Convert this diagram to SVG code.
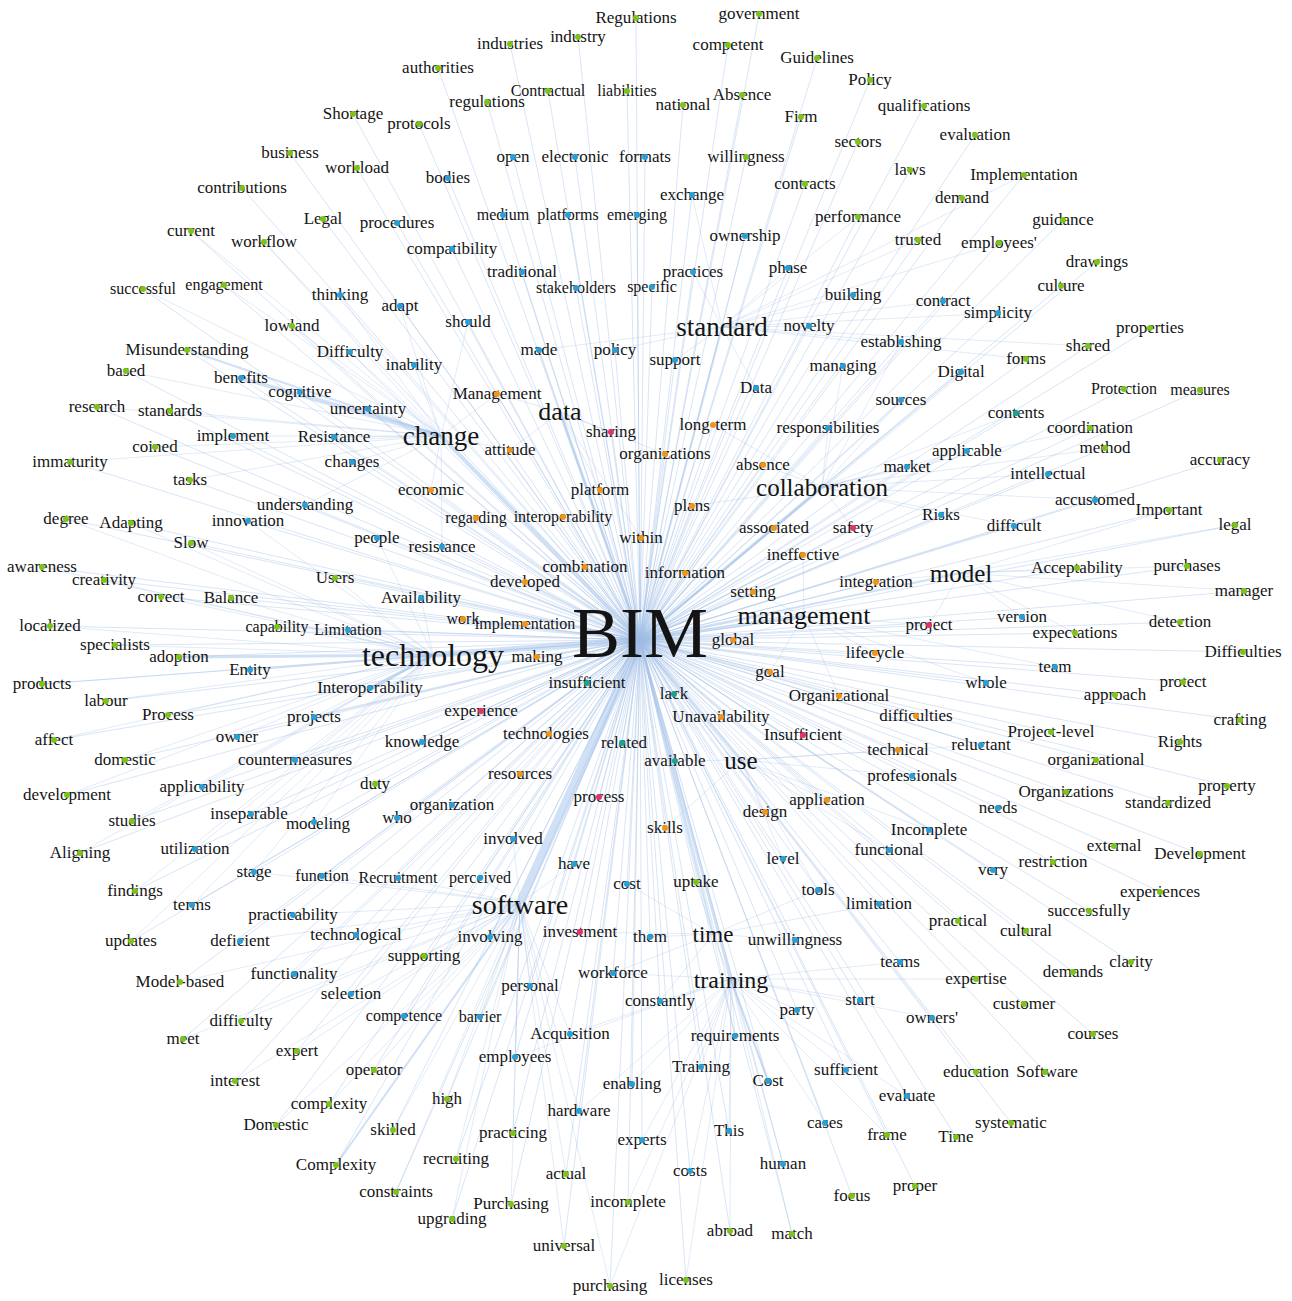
<svg xmlns="http://www.w3.org/2000/svg" width="1292" height="1301" viewBox="0 0 1292 1301">
<style>
text{font-family:"Liberation Serif","Times New Roman",serif;fill:#141414;text-anchor:middle}
.w text{font-size:17px}
.w.s text{font-size:16px}
.g{fill:#7dc41a}.b{fill:#2a9fd6}.o{fill:#f0951a}.p{fill:#e2336b}.t{fill:#1aa38f}
.e1 path{stroke:#9fbde6;stroke-width:1;fill:none;opacity:.4}
.e2 path{stroke:#9fbde6;stroke-width:1;fill:none;opacity:.3}
.e3 path{stroke:#aac6ec;fill:none;opacity:.55}
</style>
<rect width="1292" height="1301" fill="#fff"/>
<g id="connectors">
<g class="e3">
<path d="M640 640L520 903" stroke-width="9"/>
<path d="M640 640L433 655" stroke-width="6"/>
<path d="M640 640L441 436" stroke-width="4"/>
<path d="M441 436L241 378" stroke-width="4"/>
<path d="M441 436L187 350" stroke-width="2"/>
<path d="M640 640L560 412" stroke-width="3"/>
<path d="M640 640L741 760" stroke-width="3"/>
<path d="M640 640L731 979" stroke-width="3"/>
<path d="M640 640L713 934" stroke-width="2"/>
<path d="M640 640L722 327" stroke-width="2"/>
<path d="M640 640L822 487" stroke-width="3"/>
<path d="M640 640L804 616" stroke-width="3"/>
<path d="M640 640L961 573" stroke-width="2"/>
<path d="M433 655L179 657" stroke-width="3"/>
<path d="M433 655L370 688" stroke-width="3"/>
<path d="M520 903L336 1165" stroke-width="2"/>
<path d="M731 979L768 1081" stroke-width="2"/>
</g>
<g class="e1">
<path d="M640 640L636 18"/><path d="M640 640L759 14"/><path d="M640 640L510 44"/><path d="M640 640L578 37"/><path d="M640 640L728 45"/><path d="M640 640L817 58"/><path d="M640 640L438 68"/><path d="M640 640L870 80"/><path d="M640 640L548 91"/><path d="M640 640L627 91"/><path d="M640 640L353 114"/><path d="M640 640L419 124"/><path d="M640 640L487 102"/><path d="M640 640L683 105"/><path d="M640 640L742 95"/><path d="M640 640L801 117"/><path d="M640 640L924 106"/><path d="M640 640L858 142"/><path d="M640 640L975 135"/><path d="M640 640L290 153"/><path d="M640 640L357 168"/><path d="M640 640L448 178"/><path d="M640 640L513 157"/><path d="M640 640L575 157"/><path d="M640 640L645 157"/><path d="M640 640L746 157"/><path d="M640 640L805 184"/><path d="M640 640L910 170"/><path d="M640 640L1024 175"/><path d="M640 640L242 188"/><path d="M640 640L692 195"/><path d="M640 640L962 198"/><path d="M640 640L858 217"/><path d="M640 640L323 219"/><path d="M640 640L397 223"/><path d="M640 640L191 231"/><path d="M640 640L264 242"/><path d="M640 640L452 249"/><path d="M640 640L503 215"/><path d="M640 640L568 215"/><path d="M640 640L637 215"/><path d="M640 640L745 236"/><path d="M640 640L918 240"/><path d="M640 640L999 243"/><path d="M640 640L1063 220"/><path d="M640 640L1097 262"/><path d="M640 640L1061 286"/><path d="M640 640L143 289"/><path d="M640 640L224 285"/><path d="M640 640L340 295"/><path d="M640 640L400 306"/><path d="M640 640L522 272"/><path d="M640 640L576 288"/><path d="M640 640L652 287"/><path d="M640 640L693 272"/><path d="M640 640L788 268"/><path d="M640 640L853 295"/><path d="M640 640L943 301"/><path d="M640 640L998 313"/><path d="M640 640L468 322"/><path d="M640 640L809 326"/><path d="M640 640L1150 328"/><path d="M640 640L1088 346"/><path d="M640 640L901 342"/><path d="M640 640L292 326"/><path d="M640 640L187 350"/><path d="M640 640L350 352"/><path d="M640 640L414 365"/><path d="M640 640L539 350"/><path d="M640 640L615 350"/><path d="M640 640L675 360"/><path d="M640 640L1026 359"/><path d="M640 640L843 366"/><path d="M640 640L961 372"/><path d="M640 640L126 371"/><path d="M640 640L241 378"/><path d="M640 640L300 392"/><path d="M640 640L497 394"/><path d="M640 640L756 388"/><path d="M640 640L901 400"/><path d="M640 640L1124 389"/><path d="M640 640L1200 390"/><path d="M640 640L97 407"/><path d="M640 640L170 411"/><path d="M640 640L368 409"/><path d="M640 640L1016 413"/><path d="M640 640L1090 428"/><path d="M640 640L611 432"/><path d="M640 640L713 425"/><path d="M640 640L828 428"/><path d="M640 640L233 436"/><path d="M640 640L334 437"/><path d="M640 640L155 447"/><path d="M640 640L510 450"/><path d="M640 640L665 454"/><path d="M640 640L1105 448"/><path d="M640 640L1220 460"/><path d="M640 640L967 451"/><path d="M640 640L70 462"/><path d="M640 640L352 462"/><path d="M640 640L907 467"/><path d="M640 640L763 465"/><path d="M640 640L1048 474"/><path d="M640 640L190 480"/><path d="M640 640L431 490"/><path d="M640 640L600 490"/><path d="M640 640L1095 500"/><path d="M640 640L1169 510"/><path d="M640 640L692 506"/><path d="M640 640L305 505"/><path d="M640 640L66 519"/><path d="M640 640L131 523"/><path d="M640 640L248 521"/><path d="M640 640L476 518"/><path d="M640 640L563 517"/><path d="M640 640L774 528"/><path d="M640 640L853 528"/><path d="M640 640L941 515"/><path d="M640 640L1014 526"/><path d="M640 640L1235 525"/><path d="M640 640L191 543"/><path d="M640 640L377 538"/><path d="M640 640L442 547"/><path d="M640 640L641 538"/><path d="M640 640L803 555"/><path d="M640 640L42 567"/><path d="M640 640L104 580"/><path d="M640 640L335 578"/><path d="M640 640L585 567"/><path d="M640 640L685 573"/><path d="M640 640L876 582"/><path d="M640 640L1077 568"/><path d="M640 640L1187 566"/><path d="M640 640L1244 591"/><path d="M640 640L161 597"/><path d="M640 640L231 598"/><path d="M640 640L421 598"/><path d="M640 640L525 582"/><path d="M640 640L753 592"/><path d="M640 640L929 625"/><path d="M640 640L1022 617"/><path d="M640 640L50 626"/><path d="M640 640L277 627"/><path d="M640 640L348 630"/><path d="M640 640L463 619"/><path d="M640 640L1075 633"/><path d="M640 640L1180 622"/><path d="M640 640L1243 652"/><path d="M640 640L115 645"/><path d="M640 640L179 657"/><path d="M640 640L733 640"/><path d="M640 640L250 670"/><path d="M640 640L875 653"/><path d="M640 640L1055 667"/><path d="M640 640L42 684"/><path d="M640 640L370 688"/><path d="M640 640L587 683"/><path d="M640 640L770 672"/><path d="M640 640L986 683"/><path d="M640 640L1183 682"/><path d="M640 640L1115 695"/><path d="M640 640L106 701"/><path d="M640 640L674 694"/><path d="M640 640L839 696"/><path d="M640 640L168 715"/><path d="M640 640L314 717"/><path d="M640 640L481 711"/><path d="M640 640L721 717"/><path d="M640 640L916 716"/><path d="M640 640L1240 720"/><path d="M640 640L1051 732"/><path d="M640 640L981 745"/><path d="M640 640L1180 742"/><path d="M640 640L803 735"/><path d="M640 640L54 740"/><path d="M640 640L237 737"/><path d="M640 640L422 742"/><path d="M640 640L549 734"/><path d="M640 640L622 743"/><path d="M640 640L898 750"/><path d="M640 640L1096 760"/><path d="M640 640L125 760"/><path d="M640 640L295 760"/><path d="M640 640L675 761"/><path d="M640 640L912 776"/><path d="M640 640L1227 786"/><path d="M640 640L202 787"/><path d="M640 640L375 784"/><path d="M640 640L520 774"/><path d="M640 640L67 795"/><path d="M640 640L1066 792"/><path d="M640 640L1168 803"/><path d="M640 640L599 797"/><path d="M640 640L827 800"/><path d="M640 640L998 808"/><path d="M640 640L452 805"/><path d="M640 640L251 814"/><path d="M640 640L314 822"/><path d="M640 640L397 818"/><path d="M640 640L765 812"/><path d="M640 640L132 821"/><path d="M640 640L665 828"/><path d="M640 640L929 830"/><path d="M640 640L195 849"/><path d="M640 640L513 839"/><path d="M640 640L80 853"/><path d="M640 640L1114 846"/><path d="M640 640L1200 854"/><path d="M640 640L889 850"/><path d="M640 640L783 859"/><path d="M640 640L574 864"/><path d="M640 640L993 870"/><path d="M640 640L1053 862"/><path d="M640 640L254 872"/><path d="M640 640L322 876"/><path d="M640 640L398 878"/><path d="M640 640L480 878"/><path d="M640 640L627 884"/><path d="M640 640L696 882"/><path d="M640 640L818 890"/><path d="M640 640L1160 892"/><path d="M640 640L135 891"/><path d="M640 640L192 905"/><path d="M640 640L879 904"/><path d="M640 640L1089 911"/><path d="M640 640L293 915"/><path d="M640 640L958 921"/><path d="M640 640L1026 931"/><path d="M640 640L131 941"/><path d="M640 640L240 941"/><path d="M640 640L356 935"/><path d="M640 640L490 937"/><path d="M640 640L580 932"/><path d="M640 640L650 937"/><path d="M640 640L795 940"/><path d="M640 640L424 956"/><path d="M640 640L900 962"/><path d="M640 640L1073 972"/><path d="M640 640L1131 962"/><path d="M640 640L180 982"/><path d="M640 640L294 974"/><path d="M640 640L613 973"/><path d="M640 640L976 979"/><path d="M640 640L351 994"/><path d="M640 640L530 986"/><path d="M640 640L660 1001"/><path d="M640 640L860 1000"/><path d="M640 640L1024 1004"/><path d="M640 640L241 1021"/><path d="M640 640L404 1016"/><path d="M640 640L480 1017"/><path d="M640 640L797 1010"/><path d="M640 640L932 1018"/><path d="M640 640L183 1039"/><path d="M640 640L570 1034"/><path d="M640 640L735 1036"/><path d="M640 640L1093 1034"/><path d="M640 640L297 1051"/><path d="M640 640L515 1057"/><path d="M640 640L701 1067"/><path d="M640 640L768 1081"/><path d="M640 640L846 1070"/><path d="M640 640L976 1072"/><path d="M640 640L1045 1072"/><path d="M640 640L374 1070"/><path d="M640 640L235 1081"/><path d="M640 640L632 1084"/><path d="M640 640L447 1099"/><path d="M640 640L907 1096"/><path d="M640 640L329 1104"/><path d="M640 640L579 1111"/><path d="M640 640L1011 1123"/><path d="M640 640L276 1125"/><path d="M640 640L393 1130"/><path d="M640 640L513 1133"/><path d="M640 640L642 1140"/><path d="M640 640L729 1131"/><path d="M640 640L825 1123"/><path d="M640 640L887 1135"/><path d="M640 640L956 1137"/><path d="M640 640L336 1165"/><path d="M640 640L456 1159"/><path d="M640 640L783 1164"/><path d="M640 640L690 1171"/><path d="M640 640L566 1174"/><path d="M640 640L396 1192"/><path d="M640 640L511 1204"/><path d="M640 640L628 1202"/><path d="M640 640L852 1196"/><path d="M640 640L915 1186"/><path d="M640 640L452 1219"/><path d="M640 640L730 1231"/><path d="M640 640L792 1234"/><path d="M640 640L564 1246"/><path d="M640 640L610 1286"/><path d="M640 640L686 1280"/>
</g>
<g class="e2">
<path d="M433 655L115 645"/><path d="M433 655L250 670"/><path d="M433 655L42 684"/><path d="M433 655L106 701"/><path d="M433 655L168 715"/><path d="M433 655L314 717"/><path d="M433 655L54 740"/><path d="M433 655L237 737"/><path d="M433 655L125 760"/><path d="M433 655L295 760"/><path d="M433 655L202 787"/><path d="M433 655L67 795"/><path d="M433 655L132 821"/><path d="M433 655L251 814"/><path d="M433 655L314 822"/><path d="M433 655L80 853"/><path d="M433 655L195 849"/><path d="M433 655L50 626"/><path d="M433 655L277 627"/><path d="M433 655L348 630"/><path d="M433 655L161 597"/><path d="M433 655L231 598"/><path d="M433 655L104 580"/><path d="M433 655L42 567"/><path d="M433 655L421 598"/><path d="M433 655L335 578"/><path d="M433 655L66 519"/><path d="M433 655L131 523"/><path d="M433 655L191 543"/><path d="M433 655L377 538"/><path d="M433 655L248 521"/><path d="M433 655L135 891"/><path d="M433 655L131 941"/><path d="M433 655L254 872"/><path d="M433 655L192 905"/>
<path d="M520 903L356 935"/><path d="M520 903L293 915"/><path d="M520 903L240 941"/><path d="M520 903L424 956"/><path d="M520 903L351 994"/><path d="M520 903L294 974"/><path d="M520 903L241 1021"/><path d="M520 903L183 1039"/><path d="M520 903L297 1051"/><path d="M520 903L374 1070"/><path d="M520 903L235 1081"/><path d="M520 903L329 1104"/><path d="M520 903L276 1125"/><path d="M520 903L393 1130"/><path d="M520 903L396 1192"/><path d="M520 903L452 1219"/><path d="M520 903L511 1204"/><path d="M520 903L564 1246"/><path d="M520 903L610 1286"/><path d="M520 903L456 1159"/><path d="M520 903L447 1099"/><path d="M520 903L515 1057"/><path d="M520 903L404 1016"/><path d="M520 903L480 1017"/><path d="M520 903L530 986"/><path d="M520 903L490 937"/><path d="M520 903L579 1111"/><path d="M520 903L570 1034"/><path d="M520 903L513 1133"/><path d="M520 903L566 1174"/><path d="M520 903L254 872"/><path d="M520 903L322 876"/><path d="M520 903L398 878"/><path d="M520 903L480 878"/><path d="M520 903L513 839"/><path d="M520 903L574 864"/><path d="M520 903L180 982"/>
<path d="M441 436L300 392"/><path d="M441 436L126 371"/><path d="M441 436L97 407"/><path d="M441 436L170 411"/><path d="M441 436L233 436"/><path d="M441 436L155 447"/><path d="M441 436L70 462"/><path d="M441 436L190 480"/><path d="M441 436L352 462"/><path d="M441 436L368 409"/><path d="M441 436L334 437"/><path d="M441 436L305 505"/><path d="M441 436L431 490"/><path d="M441 436L350 352"/><path d="M441 436L414 365"/><path d="M441 436L497 394"/><path d="M441 436L510 450"/><path d="M441 436L340 295"/><path d="M441 436L400 306"/><path d="M441 436L468 322"/><path d="M441 436L292 326"/><path d="M441 436L224 285"/><path d="M441 436L143 289"/><path d="M441 436L264 242"/><path d="M441 436L191 231"/><path d="M441 436L442 547"/>
<path d="M731 979L701 1067"/><path d="M731 979L735 1036"/><path d="M731 979L797 1010"/><path d="M731 979L860 1000"/><path d="M731 979L846 1070"/><path d="M731 979L690 1171"/><path d="M731 979L642 1140"/><path d="M731 979L632 1084"/><path d="M731 979L660 1001"/><path d="M731 979L783 1164"/><path d="M731 979L729 1131"/><path d="M731 979L825 1123"/><path d="M731 979L887 1135"/><path d="M731 979L730 1231"/><path d="M731 979L792 1234"/><path d="M731 979L686 1280"/><path d="M731 979L610 1286"/><path d="M731 979L628 1202"/><path d="M731 979L613 973"/><path d="M731 979L515 1057"/><path d="M731 979L579 1111"/><path d="M731 979L570 1034"/><path d="M731 979L907 1096"/><path d="M731 979L932 1018"/><path d="M731 979L900 962"/><path d="M731 979L976 979"/>
<path d="M713 934L795 940"/><path d="M713 934L879 904"/><path d="M713 934L818 890"/><path d="M713 934L696 882"/><path d="M713 934L627 884"/><path d="M713 934L650 937"/><path d="M713 934L580 932"/><path d="M713 934L613 973"/><path d="M713 934L660 1001"/><path d="M713 934L735 1036"/><path d="M713 934L768 1081"/>
<path d="M822 487L763 465"/><path d="M822 487L828 428"/><path d="M822 487L967 451"/><path d="M822 487L907 467"/><path d="M822 487L1048 474"/><path d="M822 487L1016 413"/><path d="M822 487L1090 428"/><path d="M822 487L1105 448"/><path d="M822 487L1095 500"/><path d="M822 487L941 515"/><path d="M822 487L1014 526"/><path d="M822 487L853 528"/><path d="M822 487L774 528"/><path d="M822 487L901 400"/><path d="M822 487L961 372"/><path d="M822 487L843 366"/><path d="M822 487L901 342"/><path d="M822 487L713 425"/><path d="M822 487L692 506"/>
<path d="M722 327L809 326"/><path d="M722 327L788 268"/><path d="M722 327L853 295"/><path d="M722 327L693 272"/><path d="M722 327L745 236"/><path d="M722 327L675 360"/><path d="M722 327L615 350"/><path d="M722 327L539 350"/><path d="M722 327L756 388"/><path d="M722 327L901 342"/><path d="M722 327L943 301"/><path d="M722 327L858 217"/><path d="M722 327L692 195"/><path d="M722 327L918 240"/><path d="M722 327L999 243"/><path d="M722 327L998 313"/><path d="M722 327L1088 346"/><path d="M722 327L1026 359"/><path d="M722 327L1024 175"/>
<path d="M961 573L1077 568"/><path d="M961 573L1187 566"/><path d="M961 573L1244 591"/><path d="M961 573L1022 617"/><path d="M961 573L1075 633"/><path d="M961 573L1180 622"/><path d="M961 573L876 582"/><path d="M961 573L1235 525"/><path d="M961 573L1169 510"/><path d="M961 573L929 625"/>
<path d="M804 616L875 653"/><path d="M804 616L770 672"/><path d="M804 616L839 696"/><path d="M804 616L929 625"/><path d="M804 616L986 683"/><path d="M804 616L1055 667"/><path d="M804 616L733 640"/><path d="M804 616L753 592"/><path d="M804 616L803 555"/>
<path d="M741 760L827 800"/><path d="M741 760L912 776"/><path d="M741 760L929 830"/><path d="M741 760L898 750"/><path d="M741 760L981 745"/><path d="M741 760L765 812"/><path d="M741 760L783 859"/><path d="M741 760L665 828"/><path d="M741 760L675 761"/><path d="M741 760L889 850"/><path d="M741 760L818 890"/>
<path d="M560 412L611 432"/><path d="M560 412L665 454"/><path d="M560 412L600 490"/><path d="M560 412L497 394"/><path d="M560 412L539 350"/><path d="M560 412L641 538"/><path d="M560 412L510 450"/>
</g>
</g>
<g id="nodes">
<g id="n-Regulations" class="w"><text x="636" y="23">Regulations</text><circle class="g" cx="636" cy="18" r="3"/></g>
<g id="n-government" class="w"><text x="759" y="19">government</text><circle class="g" cx="759" cy="14" r="3"/></g>
<g id="n-industries" class="w"><text x="510" y="49">industries</text><circle class="g" cx="510" cy="44" r="3"/></g>
<g id="n-industry" class="w"><text x="578" y="42">industry</text><circle class="g" cx="578" cy="37" r="3"/></g>
<g id="n-competent" class="w"><text x="728" y="50">competent</text><circle class="g" cx="728" cy="45" r="3"/></g>
<g id="n-Guidelines" class="w"><text x="817" y="63">Guidelines</text><circle class="g" cx="817" cy="58" r="3"/></g>
<g id="n-authorities" class="w"><text x="438" y="73">authorities</text><circle class="g" cx="438" cy="68" r="3"/></g>
<g id="n-Policy" class="w"><text x="870" y="85">Policy</text><circle class="g" cx="870" cy="80" r="3"/></g>
<g id="n-Contractual" class="w s"><text x="548" y="96">Contractual</text><circle class="g" cx="548" cy="91" r="3"/></g>
<g id="n-liabilities" class="w s"><text x="627" y="96">liabilities</text><circle class="g" cx="627" cy="91" r="3"/></g>
<g id="n-Shortage" class="w"><text x="353" y="119">Shortage</text><circle class="g" cx="353" cy="114" r="3"/></g>
<g id="n-protocols" class="w"><text x="419" y="129">protocols</text><circle class="g" cx="419" cy="124" r="3"/></g>
<g id="n-regulations" class="w"><text x="487" y="107">regulations</text><circle class="g" cx="487" cy="102" r="3"/></g>
<g id="n-national" class="w"><text x="683" y="110">national</text><circle class="g" cx="683" cy="105" r="3"/></g>
<g id="n-Absence" class="w"><text x="742" y="100">Absence</text><circle class="g" cx="742" cy="95" r="3"/></g>
<g id="n-Firm" class="w"><text x="801" y="122">Firm</text><circle class="g" cx="801" cy="117" r="3"/></g>
<g id="n-qualifications" class="w"><text x="924" y="111">qualifications</text><circle class="g" cx="924" cy="106" r="3"/></g>
<g id="n-sectors" class="w"><text x="858" y="147">sectors</text><circle class="g" cx="858" cy="142" r="3"/></g>
<g id="n-evaluation" class="w"><text x="975" y="140">evaluation</text><circle class="g" cx="975" cy="135" r="3"/></g>
<g id="n-business" class="w"><text x="290" y="158">business</text><circle class="g" cx="290" cy="153" r="3"/></g>
<g id="n-workload" class="w"><text x="357" y="173">workload</text><circle class="g" cx="357" cy="168" r="3"/></g>
<g id="n-bodies" class="w"><text x="448" y="183">bodies</text><circle class="b" cx="448" cy="178" r="3"/></g>
<g id="n-open" class="w"><text x="513" y="162">open</text><circle class="b" cx="513" cy="157" r="3"/></g>
<g id="n-electronic" class="w"><text x="575" y="162">electronic</text><circle class="b" cx="575" cy="157" r="3"/></g>
<g id="n-formats" class="w"><text x="645" y="162">formats</text><circle class="b" cx="645" cy="157" r="3"/></g>
<g id="n-willingness" class="w"><text x="746" y="162">willingness</text><circle class="g" cx="746" cy="157" r="3"/></g>
<g id="n-contracts" class="w"><text x="805" y="189">contracts</text><circle class="g" cx="805" cy="184" r="3"/></g>
<g id="n-laws" class="w"><text x="910" y="175">laws</text><circle class="g" cx="910" cy="170" r="3"/></g>
<g id="n-Implementation" class="w"><text x="1024" y="180">Implementation</text><circle class="g" cx="1024" cy="175" r="3"/></g>
<g id="n-contributions" class="w"><text x="242" y="193">contributions</text><circle class="g" cx="242" cy="188" r="3"/></g>
<g id="n-exchange" class="w"><text x="692" y="200">exchange</text><circle class="b" cx="692" cy="195" r="3"/></g>
<g id="n-demand" class="w"><text x="962" y="203">demand</text><circle class="g" cx="962" cy="198" r="3"/></g>
<g id="n-performance" class="w"><text x="858" y="222">performance</text><circle class="g" cx="858" cy="217" r="3"/></g>
<g id="n-Legal" class="w"><text x="323" y="224">Legal</text><circle class="g" cx="323" cy="219" r="3"/></g>
<g id="n-procedures" class="w"><text x="397" y="228">procedures</text><circle class="b" cx="397" cy="223" r="3"/></g>
<g id="n-current" class="w"><text x="191" y="236">current</text><circle class="g" cx="191" cy="231" r="3"/></g>
<g id="n-workflow" class="w"><text x="264" y="247">workflow</text><circle class="g" cx="264" cy="242" r="3"/></g>
<g id="n-compatibility" class="w"><text x="452" y="254">compatibility</text><circle class="b" cx="452" cy="249" r="3"/></g>
<g id="n-medium" class="w s"><text x="503" y="220">medium</text><circle class="b" cx="503" cy="215" r="3"/></g>
<g id="n-platforms" class="w s"><text x="568" y="220">platforms</text><circle class="b" cx="568" cy="215" r="3"/></g>
<g id="n-emerging" class="w s"><text x="637" y="220">emerging</text><circle class="b" cx="637" cy="215" r="3"/></g>
<g id="n-ownership" class="w"><text x="745" y="241">ownership</text><circle class="b" cx="745" cy="236" r="3"/></g>
<g id="n-trusted" class="w"><text x="918" y="245">trusted</text><circle class="g" cx="918" cy="240" r="3"/></g>
<g id="n-employees-apos" class="w"><text x="999" y="248">employees'</text><circle class="g" cx="999" cy="243" r="3"/></g>
<g id="n-guidance" class="w"><text x="1063" y="225">guidance</text><circle class="g" cx="1063" cy="220" r="3"/></g>
<g id="n-drawings" class="w"><text x="1097" y="267">drawings</text><circle class="g" cx="1097" cy="262" r="3"/></g>
<g id="n-culture" class="w"><text x="1061" y="291">culture</text><circle class="g" cx="1061" cy="286" r="3"/></g>
<g id="n-successful" class="w s"><text x="143" y="294">successful</text><circle class="g" cx="143" cy="289" r="3"/></g>
<g id="n-engagement" class="w s"><text x="224" y="290">engagement</text><circle class="g" cx="224" cy="285" r="3"/></g>
<g id="n-thinking" class="w"><text x="340" y="300">thinking</text><circle class="b" cx="340" cy="295" r="3"/></g>
<g id="n-adapt" class="w"><text x="400" y="311">adapt</text><circle class="b" cx="400" cy="306" r="3"/></g>
<g id="n-traditional" class="w"><text x="522" y="277">traditional</text><circle class="b" cx="522" cy="272" r="3"/></g>
<g id="n-stakeholders" class="w s"><text x="576" y="293">stakeholders</text><circle class="b" cx="576" cy="288" r="3"/></g>
<g id="n-specific" class="w s"><text x="652" y="292">specific</text><circle class="b" cx="652" cy="287" r="3"/></g>
<g id="n-practices" class="w"><text x="693" y="277">practices</text><circle class="b" cx="693" cy="272" r="3"/></g>
<g id="n-phase" class="w"><text x="788" y="273">phase</text><circle class="b" cx="788" cy="268" r="3"/></g>
<g id="n-building" class="w"><text x="853" y="300">building</text><circle class="b" cx="853" cy="295" r="3"/></g>
<g id="n-contract" class="w"><text x="943" y="306">contract</text><circle class="b" cx="943" cy="301" r="3"/></g>
<g id="n-simplicity" class="w"><text x="998" y="318">simplicity</text><circle class="b" cx="998" cy="313" r="3"/></g>
<g id="n-should" class="w"><text x="468" y="327">should</text><circle class="b" cx="468" cy="322" r="3"/></g>
<g id="n-novelty" class="w"><text x="809" y="331">novelty</text><circle class="b" cx="809" cy="326" r="3"/></g>
<g id="n-properties" class="w"><text x="1150" y="333">properties</text><circle class="g" cx="1150" cy="328" r="3"/></g>
<g id="n-shared" class="w"><text x="1088" y="351">shared</text><circle class="g" cx="1088" cy="346" r="3"/></g>
<g id="n-establishing" class="w"><text x="901" y="347">establishing</text><circle class="b" cx="901" cy="342" r="3"/></g>
<g id="n-lowland" class="w"><text x="292" y="331">lowland</text><circle class="g" cx="292" cy="326" r="3"/></g>
<g id="n-Misunderstanding" class="w"><text x="187" y="355">Misunderstanding</text><circle class="g" cx="187" cy="350" r="3"/></g>
<g id="n-Difficulty" class="w"><text x="350" y="357">Difficulty</text><circle class="b" cx="350" cy="352" r="3"/></g>
<g id="n-inability" class="w"><text x="414" y="370">inability</text><circle class="b" cx="414" cy="365" r="3"/></g>
<g id="n-made" class="w"><text x="539" y="355">made</text><circle class="b" cx="539" cy="350" r="3"/></g>
<g id="n-policy" class="w"><text x="615" y="355">policy</text><circle class="b" cx="615" cy="350" r="3"/></g>
<g id="n-support" class="w"><text x="675" y="365">support</text><circle class="b" cx="675" cy="360" r="3"/></g>
<g id="n-forms" class="w"><text x="1026" y="364">forms</text><circle class="g" cx="1026" cy="359" r="3"/></g>
<g id="n-managing" class="w"><text x="843" y="371">managing</text><circle class="b" cx="843" cy="366" r="3"/></g>
<g id="n-Digital" class="w"><text x="961" y="377">Digital</text><circle class="b" cx="961" cy="372" r="3"/></g>
<g id="n-based" class="w"><text x="126" y="376">based</text><circle class="g" cx="126" cy="371" r="3"/></g>
<g id="n-benefits" class="w"><text x="241" y="383">benefits</text><circle class="b" cx="241" cy="378" r="3"/></g>
<g id="n-cognitive" class="w"><text x="300" y="397">cognitive</text><circle class="b" cx="300" cy="392" r="3"/></g>
<g id="n-Management" class="w"><text x="497" y="399">Management</text><circle class="o" cx="497" cy="394" r="3"/></g>
<g id="n-Data" class="w"><text x="756" y="393">Data</text><circle class="b" cx="756" cy="388" r="3"/></g>
<g id="n-sources" class="w"><text x="901" y="405">sources</text><circle class="b" cx="901" cy="400" r="3"/></g>
<g id="n-Protection" class="w s"><text x="1124" y="394">Protection</text><circle class="g" cx="1124" cy="389" r="3"/></g>
<g id="n-measures" class="w s"><text x="1200" y="395">measures</text><circle class="g" cx="1200" cy="390" r="3"/></g>
<g id="n-research" class="w"><text x="97" y="412">research</text><circle class="g" cx="97" cy="407" r="3"/></g>
<g id="n-standards" class="w"><text x="170" y="416">standards</text><circle class="g" cx="170" cy="411" r="3"/></g>
<g id="n-uncertainty" class="w"><text x="368" y="414">uncertainty</text><circle class="b" cx="368" cy="409" r="3"/></g>
<g id="n-contents" class="w"><text x="1016" y="418">contents</text><circle class="t" cx="1016" cy="413" r="3"/></g>
<g id="n-coordination" class="w"><text x="1090" y="433">coordination</text><circle class="g" cx="1090" cy="428" r="3"/></g>
<g id="n-sharing" class="w"><text x="611" y="437">sharing</text><circle class="p" cx="611" cy="432" r="3"/></g>
<g id="n-long-term" class="w"><text x="713" y="430">long-term</text><circle class="o" cx="713" cy="425" r="3"/></g>
<g id="n-responsibilities" class="w"><text x="828" y="433">responsibilities</text><circle class="b" cx="828" cy="428" r="3"/></g>
<g id="n-implement" class="w"><text x="233" y="441">implement</text><circle class="b" cx="233" cy="436" r="3"/></g>
<g id="n-Resistance" class="w"><text x="334" y="442">Resistance</text><circle class="b" cx="334" cy="437" r="3"/></g>
<g id="n-coined" class="w"><text x="155" y="452">coined</text><circle class="g" cx="155" cy="447" r="3"/></g>
<g id="n-attitude" class="w"><text x="510" y="455">attitude</text><circle class="o" cx="510" cy="450" r="3"/></g>
<g id="n-organizations" class="w"><text x="665" y="459">organizations</text><circle class="o" cx="665" cy="454" r="3"/></g>
<g id="n-method" class="w"><text x="1105" y="453">method</text><circle class="g" cx="1105" cy="448" r="3"/></g>
<g id="n-accuracy" class="w"><text x="1220" y="465">accuracy</text><circle class="g" cx="1220" cy="460" r="3"/></g>
<g id="n-applicable" class="w"><text x="967" y="456">applicable</text><circle class="b" cx="967" cy="451" r="3"/></g>
<g id="n-immaturity" class="w"><text x="70" y="467">immaturity</text><circle class="g" cx="70" cy="462" r="3"/></g>
<g id="n-changes" class="w"><text x="352" y="467">changes</text><circle class="b" cx="352" cy="462" r="3"/></g>
<g id="n-market" class="w"><text x="907" y="472">market</text><circle class="b" cx="907" cy="467" r="3"/></g>
<g id="n-absence" class="w"><text x="763" y="470">absence</text><circle class="o" cx="763" cy="465" r="3"/></g>
<g id="n-intellectual" class="w"><text x="1048" y="479">intellectual</text><circle class="b" cx="1048" cy="474" r="3"/></g>
<g id="n-tasks" class="w"><text x="190" y="485">tasks</text><circle class="g" cx="190" cy="480" r="3"/></g>
<g id="n-economic" class="w"><text x="431" y="495">economic</text><circle class="o" cx="431" cy="490" r="3"/></g>
<g id="n-platform" class="w"><text x="600" y="495">platform</text><circle class="o" cx="600" cy="490" r="3"/></g>
<g id="n-accustomed" class="w"><text x="1095" y="505">accustomed</text><circle class="b" cx="1095" cy="500" r="3"/></g>
<g id="n-Important" class="w"><text x="1169" y="515">Important</text><circle class="g" cx="1169" cy="510" r="3"/></g>
<g id="n-plans" class="w"><text x="692" y="511">plans</text><circle class="o" cx="692" cy="506" r="3"/></g>
<g id="n-understanding" class="w"><text x="305" y="510">understanding</text><circle class="b" cx="305" cy="505" r="3"/></g>
<g id="n-degree" class="w"><text x="66" y="524">degree</text><circle class="g" cx="66" cy="519" r="3"/></g>
<g id="n-Adapting" class="w"><text x="131" y="528">Adapting</text><circle class="g" cx="131" cy="523" r="3"/></g>
<g id="n-innovation" class="w"><text x="248" y="526">innovation</text><circle class="b" cx="248" cy="521" r="3"/></g>
<g id="n-regarding" class="w s"><text x="476" y="523">regarding</text><circle class="o" cx="476" cy="518" r="3"/></g>
<g id="n-interoperability" class="w s"><text x="563" y="522">interoperability</text><circle class="o" cx="563" cy="517" r="3"/></g>
<g id="n-associated" class="w"><text x="774" y="533">associated</text><circle class="o" cx="774" cy="528" r="3"/></g>
<g id="n-safety" class="w"><text x="853" y="533">safety</text><circle class="p" cx="853" cy="528" r="3"/></g>
<g id="n-Risks" class="w"><text x="941" y="520">Risks</text><circle class="b" cx="941" cy="515" r="3"/></g>
<g id="n-difficult" class="w"><text x="1014" y="531">difficult</text><circle class="b" cx="1014" cy="526" r="3"/></g>
<g id="n-legal" class="w"><text x="1235" y="530">legal</text><circle class="g" cx="1235" cy="525" r="3"/></g>
<g id="n-Slow" class="w"><text x="191" y="548">Slow</text><circle class="g" cx="191" cy="543" r="3"/></g>
<g id="n-people" class="w"><text x="377" y="543">people</text><circle class="b" cx="377" cy="538" r="3"/></g>
<g id="n-resistance" class="w"><text x="442" y="552">resistance</text><circle class="b" cx="442" cy="547" r="3"/></g>
<g id="n-within" class="w"><text x="641" y="543">within</text><circle class="o" cx="641" cy="538" r="3"/></g>
<g id="n-ineffective" class="w"><text x="803" y="560">ineffective</text><circle class="o" cx="803" cy="555" r="3"/></g>
<g id="n-awareness" class="w"><text x="42" y="572">awareness</text><circle class="g" cx="42" cy="567" r="3"/></g>
<g id="n-creativity" class="w"><text x="104" y="585">creativity</text><circle class="g" cx="104" cy="580" r="3"/></g>
<g id="n-Users" class="w"><text x="335" y="583">Users</text><circle class="g" cx="335" cy="578" r="3"/></g>
<g id="n-combination" class="w"><text x="585" y="572">combination</text><circle class="o" cx="585" cy="567" r="3"/></g>
<g id="n-information" class="w"><text x="685" y="578">information</text><circle class="o" cx="685" cy="573" r="3"/></g>
<g id="n-integration" class="w"><text x="876" y="587">integration</text><circle class="o" cx="876" cy="582" r="3"/></g>
<g id="n-Acceptability" class="w"><text x="1077" y="573">Acceptability</text><circle class="g" cx="1077" cy="568" r="3"/></g>
<g id="n-purchases" class="w"><text x="1187" y="571">purchases</text><circle class="g" cx="1187" cy="566" r="3"/></g>
<g id="n-manager" class="w"><text x="1244" y="596">manager</text><circle class="g" cx="1244" cy="591" r="3"/></g>
<g id="n-correct" class="w"><text x="161" y="602">correct</text><circle class="g" cx="161" cy="597" r="3"/></g>
<g id="n-Balance" class="w"><text x="231" y="603">Balance</text><circle class="g" cx="231" cy="598" r="3"/></g>
<g id="n-Availability" class="w"><text x="421" y="603">Availability</text><circle class="b" cx="421" cy="598" r="3"/></g>
<g id="n-developed" class="w"><text x="525" y="587">developed</text><circle class="o" cx="525" cy="582" r="3"/></g>
<g id="n-setting" class="w"><text x="753" y="597">setting</text><circle class="o" cx="753" cy="592" r="3"/></g>
<g id="n-project" class="w"><text x="929" y="630">project</text><circle class="p" cx="929" cy="625" r="3"/></g>
<g id="n-version" class="w"><text x="1022" y="622">version</text><circle class="b" cx="1022" cy="617" r="3"/></g>
<g id="n-localized" class="w"><text x="50" y="631">localized</text><circle class="g" cx="50" cy="626" r="3"/></g>
<g id="n-capability" class="w s"><text x="277" y="632">capability</text><circle class="g" cx="277" cy="627" r="3"/></g>
<g id="n-Limitation" class="w s"><text x="348" y="635">Limitation</text><circle class="b" cx="348" cy="630" r="3"/></g>
<g id="n-work" class="w s"><text x="463" y="624">work</text><circle class="o" cx="463" cy="619" r="3"/></g>
<g id="n-implementation" class="w s"><text x="525" y="629">implementation</text><circle class="o" cx="525" cy="624" r="3"/></g>
<g id="n-expectations" class="w"><text x="1075" y="638">expectations</text><circle class="g" cx="1075" cy="633" r="3"/></g>
<g id="n-detection" class="w"><text x="1180" y="627">detection</text><circle class="g" cx="1180" cy="622" r="3"/></g>
<g id="n-Difficulties" class="w"><text x="1243" y="657">Difficulties</text><circle class="g" cx="1243" cy="652" r="3"/></g>
<g id="n-specialists" class="w"><text x="115" y="650">specialists</text><circle class="g" cx="115" cy="645" r="3"/></g>
<g id="n-adoption" class="w"><text x="179" y="662">adoption</text><circle class="g" cx="179" cy="657" r="3"/></g>
<g id="n-making" class="w"><text x="537" y="662">making</text><circle class="o" cx="537" cy="657" r="3"/></g>
<g id="n-global" class="w"><text x="733" y="645">global</text><circle class="o" cx="733" cy="640" r="3"/></g>
<g id="n-Entity" class="w"><text x="250" y="675">Entity</text><circle class="b" cx="250" cy="670" r="3"/></g>
<g id="n-lifecycle" class="w"><text x="875" y="658">lifecycle</text><circle class="o" cx="875" cy="653" r="3"/></g>
<g id="n-team" class="w"><text x="1055" y="672">team</text><circle class="b" cx="1055" cy="667" r="3"/></g>
<g id="n-products" class="w"><text x="42" y="689">products</text><circle class="g" cx="42" cy="684" r="3"/></g>
<g id="n-Interoperability" class="w"><text x="370" y="693">Interoperability</text><circle class="b" cx="370" cy="688" r="3"/></g>
<g id="n-insufficient" class="w"><text x="587" y="688">insufficient</text><circle class="t" cx="587" cy="683" r="3"/></g>
<g id="n-goal" class="w"><text x="770" y="677">goal</text><circle class="o" cx="770" cy="672" r="3"/></g>
<g id="n-whole" class="w"><text x="986" y="688">whole</text><circle class="b" cx="986" cy="683" r="3"/></g>
<g id="n-protect" class="w"><text x="1183" y="687">protect</text><circle class="g" cx="1183" cy="682" r="3"/></g>
<g id="n-approach" class="w"><text x="1115" y="700">approach</text><circle class="g" cx="1115" cy="695" r="3"/></g>
<g id="n-labour" class="w"><text x="106" y="706">labour</text><circle class="g" cx="106" cy="701" r="3"/></g>
<g id="n-lack" class="w"><text x="674" y="699">lack</text><circle class="t" cx="674" cy="694" r="3"/></g>
<g id="n-Organizational" class="w"><text x="839" y="701">Organizational</text><circle class="o" cx="839" cy="696" r="3"/></g>
<g id="n-Process" class="w"><text x="168" y="720">Process</text><circle class="g" cx="168" cy="715" r="3"/></g>
<g id="n-projects" class="w"><text x="314" y="722">projects</text><circle class="b" cx="314" cy="717" r="3"/></g>
<g id="n-experience" class="w"><text x="481" y="716">experience</text><circle class="p" cx="481" cy="711" r="3"/></g>
<g id="n-Unavailability" class="w"><text x="721" y="722">Unavailability</text><circle class="o" cx="721" cy="717" r="3"/></g>
<g id="n-difficulties" class="w"><text x="916" y="721">difficulties</text><circle class="o" cx="916" cy="716" r="3"/></g>
<g id="n-crafting" class="w"><text x="1240" y="725">crafting</text><circle class="g" cx="1240" cy="720" r="3"/></g>
<g id="n-Project-level" class="w"><text x="1051" y="737">Project-level</text><circle class="g" cx="1051" cy="732" r="3"/></g>
<g id="n-reluctant" class="w"><text x="981" y="750">reluctant</text><circle class="b" cx="981" cy="745" r="3"/></g>
<g id="n-Rights" class="w"><text x="1180" y="747">Rights</text><circle class="g" cx="1180" cy="742" r="3"/></g>
<g id="n-Insufficient" class="w"><text x="803" y="740">Insufficient</text><circle class="p" cx="803" cy="735" r="3"/></g>
<g id="n-affect" class="w"><text x="54" y="745">affect</text><circle class="g" cx="54" cy="740" r="3"/></g>
<g id="n-owner" class="w"><text x="237" y="742">owner</text><circle class="b" cx="237" cy="737" r="3"/></g>
<g id="n-knowledge" class="w"><text x="422" y="747">knowledge</text><circle class="b" cx="422" cy="742" r="3"/></g>
<g id="n-technologies" class="w"><text x="546" y="739">technologies</text><circle class="o" cx="549" cy="734" r="3"/></g>
<g id="n-related" class="w"><text x="624" y="748">related</text><circle class="t" cx="622" cy="743" r="3"/></g>
<g id="n-technical" class="w"><text x="898" y="755">technical</text><circle class="o" cx="898" cy="750" r="3"/></g>
<g id="n-organizational" class="w"><text x="1096" y="765">organizational</text><circle class="g" cx="1096" cy="760" r="3"/></g>
<g id="n-domestic" class="w"><text x="125" y="765">domestic</text><circle class="g" cx="125" cy="760" r="3"/></g>
<g id="n-countermeasures" class="w"><text x="295" y="765">countermeasures</text><circle class="b" cx="295" cy="760" r="3"/></g>
<g id="n-available" class="w"><text x="675" y="766">available</text><circle class="t" cx="675" cy="761" r="3"/></g>
<g id="n-professionals" class="w"><text x="912" y="781">professionals</text><circle class="b" cx="912" cy="776" r="3"/></g>
<g id="n-property" class="w"><text x="1227" y="791">property</text><circle class="g" cx="1227" cy="786" r="3"/></g>
<g id="n-applicability" class="w"><text x="202" y="792">applicability</text><circle class="b" cx="202" cy="787" r="3"/></g>
<g id="n-duty" class="w"><text x="375" y="789">duty</text><circle class="g" cx="375" cy="784" r="3"/></g>
<g id="n-resources" class="w"><text x="520" y="779">resources</text><circle class="o" cx="520" cy="774" r="3"/></g>
<g id="n-development" class="w"><text x="67" y="800">development</text><circle class="g" cx="67" cy="795" r="3"/></g>
<g id="n-Organizations" class="w"><text x="1066" y="797">Organizations</text><circle class="g" cx="1066" cy="792" r="3"/></g>
<g id="n-standardized" class="w"><text x="1168" y="808">standardized</text><circle class="g" cx="1168" cy="803" r="3"/></g>
<g id="n-process" class="w"><text x="599" y="802">process</text><circle class="p" cx="599" cy="797" r="3"/></g>
<g id="n-application" class="w"><text x="827" y="805">application</text><circle class="o" cx="827" cy="800" r="3"/></g>
<g id="n-needs" class="w"><text x="998" y="813">needs</text><circle class="b" cx="998" cy="808" r="3"/></g>
<g id="n-organization" class="w"><text x="452" y="810">organization</text><circle class="b" cx="452" cy="805" r="3"/></g>
<g id="n-inseparable" class="w"><text x="249" y="819">inseparable</text><circle class="b" cx="251" cy="814" r="3"/></g>
<g id="n-modeling" class="w"><text x="318" y="829">modeling</text><circle class="b" cx="314" cy="822" r="3"/></g>
<g id="n-who" class="w"><text x="397" y="823">who</text><circle class="b" cx="397" cy="818" r="3"/></g>
<g id="n-design" class="w"><text x="765" y="817">design</text><circle class="o" cx="765" cy="812" r="3"/></g>
<g id="n-studies" class="w"><text x="132" y="826">studies</text><circle class="g" cx="132" cy="821" r="3"/></g>
<g id="n-skills" class="w"><text x="665" y="833">skills</text><circle class="o" cx="665" cy="828" r="3"/></g>
<g id="n-Incomplete" class="w"><text x="929" y="835">Incomplete</text><circle class="b" cx="929" cy="830" r="3"/></g>
<g id="n-utilization" class="w"><text x="195" y="854">utilization</text><circle class="b" cx="195" cy="849" r="3"/></g>
<g id="n-involved" class="w"><text x="513" y="844">involved</text><circle class="b" cx="513" cy="839" r="3"/></g>
<g id="n-Aligning" class="w"><text x="80" y="858">Aligning</text><circle class="g" cx="80" cy="853" r="3"/></g>
<g id="n-external" class="w"><text x="1114" y="851">external</text><circle class="g" cx="1114" cy="846" r="3"/></g>
<g id="n-Development" class="w"><text x="1200" y="859">Development</text><circle class="g" cx="1200" cy="854" r="3"/></g>
<g id="n-functional" class="w"><text x="889" y="855">functional</text><circle class="b" cx="889" cy="850" r="3"/></g>
<g id="n-level" class="w"><text x="783" y="864">level</text><circle class="b" cx="783" cy="859" r="3"/></g>
<g id="n-have" class="w"><text x="574" y="869">have</text><circle class="b" cx="574" cy="864" r="3"/></g>
<g id="n-very" class="w"><text x="993" y="875">very</text><circle class="b" cx="993" cy="870" r="3"/></g>
<g id="n-restriction" class="w"><text x="1053" y="867">restriction</text><circle class="g" cx="1053" cy="862" r="3"/></g>
<g id="n-stage" class="w"><text x="254" y="877">stage</text><circle class="b" cx="254" cy="872" r="3"/></g>
<g id="n-function" class="w s"><text x="322" y="881">function</text><circle class="b" cx="322" cy="876" r="3"/></g>
<g id="n-Recruitment" class="w s"><text x="398" y="883">Recruitment</text><circle class="b" cx="398" cy="878" r="3"/></g>
<g id="n-perceived" class="w s"><text x="480" y="883">perceived</text><circle class="b" cx="480" cy="878" r="3"/></g>
<g id="n-cost" class="w"><text x="627" y="889">cost</text><circle class="b" cx="627" cy="884" r="3"/></g>
<g id="n-uptake" class="w"><text x="696" y="887">uptake</text><circle class="g" cx="696" cy="882" r="3"/></g>
<g id="n-tools" class="w"><text x="818" y="895">tools</text><circle class="b" cx="818" cy="890" r="3"/></g>
<g id="n-experiences" class="w"><text x="1160" y="897">experiences</text><circle class="g" cx="1160" cy="892" r="3"/></g>
<g id="n-findings" class="w"><text x="135" y="896">findings</text><circle class="g" cx="135" cy="891" r="3"/></g>
<g id="n-terms" class="w"><text x="192" y="910">terms</text><circle class="b" cx="192" cy="905" r="3"/></g>
<g id="n-limitation" class="w"><text x="879" y="909">limitation</text><circle class="b" cx="879" cy="904" r="3"/></g>
<g id="n-successfully" class="w"><text x="1089" y="916">successfully</text><circle class="g" cx="1089" cy="911" r="3"/></g>
<g id="n-practicability" class="w"><text x="293" y="920">practicability</text><circle class="b" cx="293" cy="915" r="3"/></g>
<g id="n-practical" class="w"><text x="958" y="926">practical</text><circle class="g" cx="958" cy="921" r="3"/></g>
<g id="n-cultural" class="w"><text x="1026" y="936">cultural</text><circle class="g" cx="1026" cy="931" r="3"/></g>
<g id="n-updates" class="w"><text x="131" y="946">updates</text><circle class="g" cx="131" cy="941" r="3"/></g>
<g id="n-deficient" class="w"><text x="240" y="946">deficient</text><circle class="b" cx="240" cy="941" r="3"/></g>
<g id="n-technological" class="w"><text x="356" y="940">technological</text><circle class="b" cx="356" cy="935" r="3"/></g>
<g id="n-involving" class="w"><text x="490" y="942">involving</text><circle class="b" cx="490" cy="937" r="3"/></g>
<g id="n-investment" class="w"><text x="580" y="937">investment</text><circle class="p" cx="580" cy="932" r="3"/></g>
<g id="n-them" class="w"><text x="650" y="942">them</text><circle class="b" cx="650" cy="937" r="3"/></g>
<g id="n-unwillingness" class="w"><text x="795" y="945">unwillingness</text><circle class="b" cx="795" cy="940" r="3"/></g>
<g id="n-supporting" class="w"><text x="424" y="961">supporting</text><circle class="g" cx="424" cy="956" r="3"/></g>
<g id="n-teams" class="w"><text x="900" y="967">teams</text><circle class="b" cx="900" cy="962" r="3"/></g>
<g id="n-demands" class="w"><text x="1073" y="977">demands</text><circle class="g" cx="1073" cy="972" r="3"/></g>
<g id="n-clarity" class="w"><text x="1131" y="967">clarity</text><circle class="g" cx="1131" cy="962" r="3"/></g>
<g id="n-Model-based" class="w"><text x="180" y="987">Model-based</text><circle class="g" cx="180" cy="982" r="3"/></g>
<g id="n-functionality" class="w"><text x="294" y="979">functionality</text><circle class="b" cx="294" cy="974" r="3"/></g>
<g id="n-workforce" class="w"><text x="613" y="978">workforce</text><circle class="b" cx="613" cy="973" r="3"/></g>
<g id="n-expertise" class="w"><text x="976" y="984">expertise</text><circle class="g" cx="976" cy="979" r="3"/></g>
<g id="n-selection" class="w"><text x="351" y="999">selection</text><circle class="b" cx="351" cy="994" r="3"/></g>
<g id="n-personal" class="w"><text x="530" y="991">personal</text><circle class="b" cx="530" cy="986" r="3"/></g>
<g id="n-constantly" class="w"><text x="660" y="1006">constantly</text><circle class="b" cx="660" cy="1001" r="3"/></g>
<g id="n-start" class="w"><text x="860" y="1005">start</text><circle class="b" cx="860" cy="1000" r="3"/></g>
<g id="n-customer" class="w"><text x="1024" y="1009">customer</text><circle class="g" cx="1024" cy="1004" r="3"/></g>
<g id="n-difficulty" class="w"><text x="241" y="1026">difficulty</text><circle class="g" cx="241" cy="1021" r="3"/></g>
<g id="n-competence" class="w s"><text x="404" y="1021">competence</text><circle class="b" cx="404" cy="1016" r="3"/></g>
<g id="n-barrier" class="w s"><text x="480" y="1022">barrier</text><circle class="b" cx="480" cy="1017" r="3"/></g>
<g id="n-party" class="w"><text x="797" y="1015">party</text><circle class="b" cx="797" cy="1010" r="3"/></g>
<g id="n-owners-apos" class="w"><text x="932" y="1023">owners'</text><circle class="b" cx="932" cy="1018" r="3"/></g>
<g id="n-meet" class="w"><text x="183" y="1044">meet</text><circle class="g" cx="183" cy="1039" r="3"/></g>
<g id="n-Acquisition" class="w"><text x="570" y="1039">Acquisition</text><circle class="b" cx="570" cy="1034" r="3"/></g>
<g id="n-requirements" class="w"><text x="735" y="1041">requirements</text><circle class="b" cx="735" cy="1036" r="3"/></g>
<g id="n-courses" class="w"><text x="1093" y="1039">courses</text><circle class="g" cx="1093" cy="1034" r="3"/></g>
<g id="n-expert" class="w"><text x="297" y="1056">expert</text><circle class="g" cx="297" cy="1051" r="3"/></g>
<g id="n-employees" class="w"><text x="515" y="1062">employees</text><circle class="b" cx="515" cy="1057" r="3"/></g>
<g id="n-Training" class="w"><text x="701" y="1072">Training</text><circle class="b" cx="701" cy="1067" r="3"/></g>
<g id="n-Cost" class="w"><text x="768" y="1086">Cost</text><circle class="b" cx="768" cy="1081" r="3"/></g>
<g id="n-sufficient" class="w"><text x="846" y="1075">sufficient</text><circle class="b" cx="846" cy="1070" r="3"/></g>
<g id="n-education" class="w"><text x="976" y="1077">education</text><circle class="g" cx="976" cy="1072" r="3"/></g>
<g id="n-Software" class="w"><text x="1047" y="1077">Software</text><circle class="g" cx="1045" cy="1072" r="3"/></g>
<g id="n-operator" class="w"><text x="374" y="1075">operator</text><circle class="g" cx="374" cy="1070" r="3"/></g>
<g id="n-interest" class="w"><text x="235" y="1086">interest</text><circle class="g" cx="235" cy="1081" r="3"/></g>
<g id="n-enabling" class="w"><text x="632" y="1089">enabling</text><circle class="b" cx="632" cy="1084" r="3"/></g>
<g id="n-high" class="w"><text x="447" y="1104">high</text><circle class="g" cx="447" cy="1099" r="3"/></g>
<g id="n-evaluate" class="w"><text x="907" y="1101">evaluate</text><circle class="b" cx="907" cy="1096" r="3"/></g>
<g id="n-complexity" class="w"><text x="329" y="1109">complexity</text><circle class="g" cx="329" cy="1104" r="3"/></g>
<g id="n-hardware" class="w"><text x="579" y="1116">hardware</text><circle class="b" cx="579" cy="1111" r="3"/></g>
<g id="n-systematic" class="w"><text x="1011" y="1128">systematic</text><circle class="g" cx="1011" cy="1123" r="3"/></g>
<g id="n-Domestic" class="w"><text x="276" y="1130">Domestic</text><circle class="g" cx="276" cy="1125" r="3"/></g>
<g id="n-skilled" class="w"><text x="393" y="1135">skilled</text><circle class="g" cx="393" cy="1130" r="3"/></g>
<g id="n-practicing" class="w"><text x="513" y="1138">practicing</text><circle class="g" cx="513" cy="1133" r="3"/></g>
<g id="n-experts" class="w"><text x="642" y="1145">experts</text><circle class="b" cx="642" cy="1140" r="3"/></g>
<g id="n-This" class="w"><text x="729" y="1136">This</text><circle class="b" cx="729" cy="1131" r="3"/></g>
<g id="n-cases" class="w"><text x="825" y="1128">cases</text><circle class="b" cx="825" cy="1123" r="3"/></g>
<g id="n-frame" class="w"><text x="887" y="1140">frame</text><circle class="g" cx="887" cy="1135" r="3"/></g>
<g id="n-Time" class="w"><text x="956" y="1142">Time</text><circle class="g" cx="956" cy="1137" r="3"/></g>
<g id="n-Complexity" class="w"><text x="336" y="1170">Complexity</text><circle class="g" cx="336" cy="1165" r="3"/></g>
<g id="n-recruiting" class="w"><text x="456" y="1164">recruiting</text><circle class="g" cx="456" cy="1159" r="3"/></g>
<g id="n-human" class="w"><text x="783" y="1169">human</text><circle class="b" cx="783" cy="1164" r="3"/></g>
<g id="n-costs" class="w"><text x="690" y="1176">costs</text><circle class="b" cx="690" cy="1171" r="3"/></g>
<g id="n-actual" class="w"><text x="566" y="1179">actual</text><circle class="g" cx="566" cy="1174" r="3"/></g>
<g id="n-constraints" class="w"><text x="396" y="1197">constraints</text><circle class="g" cx="396" cy="1192" r="3"/></g>
<g id="n-Purchasing" class="w"><text x="511" y="1209">Purchasing</text><circle class="g" cx="511" cy="1204" r="3"/></g>
<g id="n-incomplete" class="w"><text x="628" y="1207">incomplete</text><circle class="g" cx="628" cy="1202" r="3"/></g>
<g id="n-focus" class="w"><text x="852" y="1201">focus</text><circle class="g" cx="852" cy="1196" r="3"/></g>
<g id="n-proper" class="w"><text x="915" y="1191">proper</text><circle class="g" cx="915" cy="1186" r="3"/></g>
<g id="n-upgrading" class="w"><text x="452" y="1224">upgrading</text><circle class="g" cx="452" cy="1219" r="3"/></g>
<g id="n-abroad" class="w"><text x="730" y="1236">abroad</text><circle class="g" cx="730" cy="1231" r="3"/></g>
<g id="n-match" class="w"><text x="792" y="1239">match</text><circle class="g" cx="792" cy="1234" r="3"/></g>
<g id="n-universal" class="w"><text x="564" y="1251">universal</text><circle class="g" cx="564" cy="1246" r="3"/></g>
<g id="n-purchasing" class="w"><text x="610" y="1291">purchasing</text><circle class="g" cx="610" cy="1286" r="3"/></g>
<g id="n-licenses" class="w"><text x="686" y="1285">licenses</text><circle class="g" cx="686" cy="1280" r="3"/></g>
<g id="n-technology"><text x="433" y="666" font-size="32">technology</text></g>
<g id="n-software"><text x="520" y="914" font-size="28">software</text></g>
<g id="n-change"><text x="441" y="445" font-size="27">change</text></g>
<g id="n-data"><text x="560" y="420" font-size="26">data</text></g>
<g id="n-standard"><text x="722" y="336" font-size="27">standard</text></g>
<g id="n-collaboration"><text x="822" y="496" font-size="25">collaboration</text></g>
<g id="n-management"><text x="804" y="624" font-size="26">management</text></g>
<g id="n-model"><text x="961" y="582" font-size="25">model</text></g>
<g id="n-use"><text x="741" y="769" font-size="25">use</text></g>
<g id="n-time"><text x="713" y="942" font-size="23">time</text></g>
<g id="n-training"><text x="731" y="988" font-size="24">training</text></g>
<g id="n-BIM"><text x="640" y="657" font-size="72">BIM</text></g>
</g>
</svg>
